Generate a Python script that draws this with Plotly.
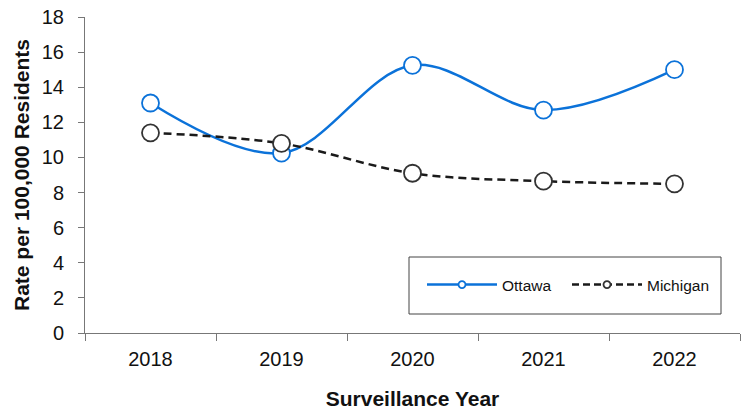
import plotly.graph_objects as go

years = ["2018", "2019", "2020", "2021", "2022"]
ottawa = [13.1, 10.25, 15.25, 12.7, 15.0]
michigan = [11.4, 10.8, 9.1, 8.65, 8.5]

blue = "#0B72D9"
dark = "#1a1a1a"
font = "Liberation Sans, Arial, sans-serif"

fig = go.Figure()
fig.add_trace(go.Scatter(x=years, y=ottawa, mode="lines+markers", name="Ottawa",
                         line=dict(color=blue, width=2.5, shape="spline", smoothing=1.0),
                         marker=dict(symbol="circle", size=17, color="white",
                                     line=dict(color=blue, width=1.8)),
                         showlegend=False))
fig.add_trace(go.Scatter(x=years, y=michigan, mode="lines+markers", name="Michigan",
                         line=dict(color=dark, width=2.5, dash="8px,5px", shape="spline", smoothing=1.0),
                         marker=dict(symbol="circle", size=17, color="white",
                                     line=dict(color="#333333", width=1.8)),
                         showlegend=False))
# legend-only entries with small markers
fig.add_trace(go.Scatter(x=[None], y=[None], mode="lines+markers", name="Ottawa",
                         line=dict(color=blue, width=2.5),
                         marker=dict(size=7, color="white", line=dict(color=blue, width=1.8))))
fig.add_trace(go.Scatter(x=[None], y=[None], mode="lines+markers", name="Michigan",
                         line=dict(color=dark, width=2.5, dash="7px,4px"),
                         marker=dict(size=7, color="white", line=dict(color="#333333", width=1.8))))

# legend frame
fig.add_shape(type="rect", xref="paper", yref="paper",
              x0=(409 - 85) / 655, x1=(721 - 85) / 655,
              y0=(333 - 314) / 316, y1=(333 - 257) / 316,
              line=dict(color="#444", width=1), fillcolor="white", layer="above")

fig.update_layout(
    width=747, height=413,
    margin=dict(l=85, r=7, t=17, b=80),
    plot_bgcolor="white", paper_bgcolor="white",
    font=dict(family=font, size=20, color="#111"),
    legend=dict(orientation="h", x=(422 - 85) / 655, y=(333 - 285) / 316,
                xanchor="left", yanchor="middle",
                bgcolor="rgba(0,0,0,0)", borderwidth=0,
                font=dict(size=15.5, color="#111"), itemwidth=70,
                entrywidth=60, entrywidthmode="pixels"),
    xaxis=dict(type="category", range=[-0.5, 4.5], showline=True, linecolor="#777",
               linewidth=1, ticks="outside", tickson="boundaries", ticklen=7,
               tickcolor="#777", showgrid=False, automargin=False, ticklabelstandoff=8,
               title=dict(text="<b>Surveillance Year</b>", font=dict(size=21), standoff=22)),
    yaxis=dict(range=[0, 18], dtick=2, showline=True, linecolor="#777", linewidth=1,
               ticks="outside", ticklen=6, tickcolor="#777", showgrid=False, zeroline=False,
               automargin=False, ticklabelstandoff=10,
               title=dict(text="<b>Rate per 100,000 Residents</b>", font=dict(size=21), standoff=6)),
)

fig.write_html("out.html", post_script="document.body.style.margin='0';",
               config={"displayModeBar": False})
